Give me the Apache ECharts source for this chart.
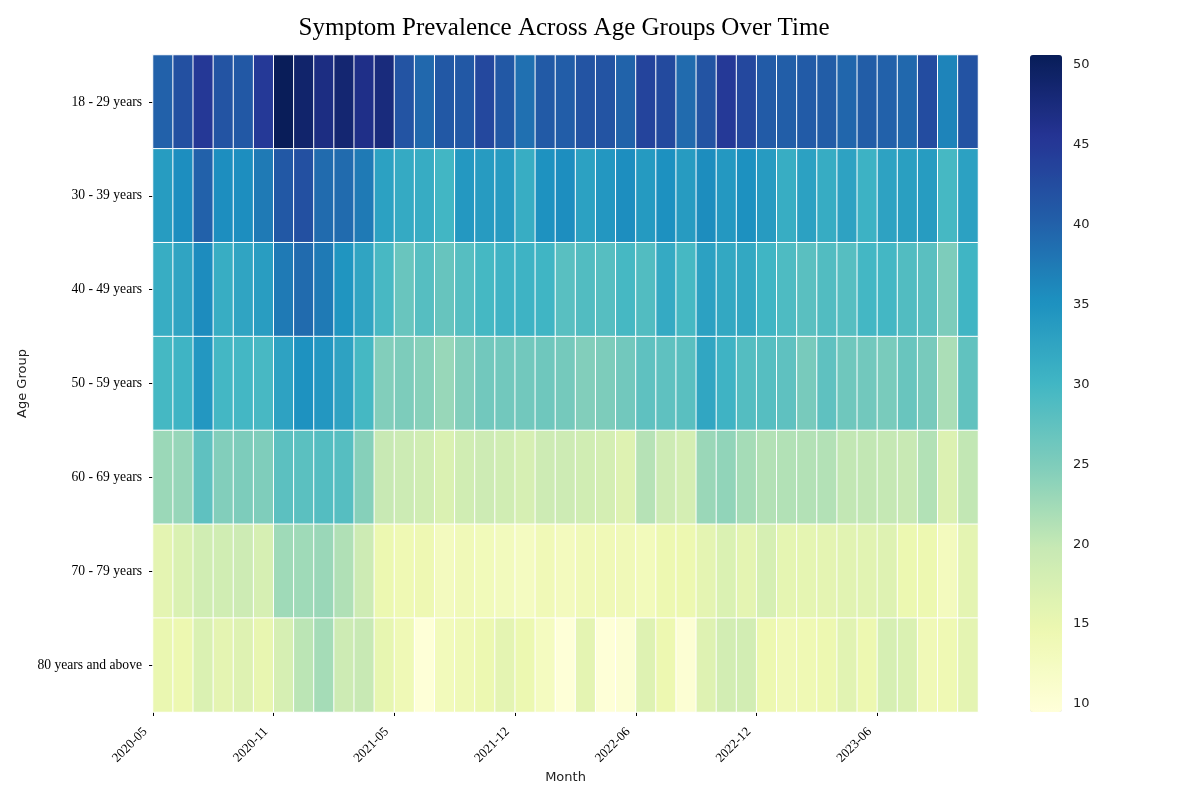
<!DOCTYPE html>
<html>
<head>
<meta charset="utf-8">
<title>Symptom Prevalence Across Age Groups Over Time</title>
<script src="https://cdn.jsdelivr.net/npm/echarts@6.0.0/dist/echarts.min.js"></script>
<style>
  html, body { margin: 0; padding: 0; background: #fff; }
  #chart { width: 1200px; height: 800px; }
</style>
</head>
<body>
<div id="chart"></div>
<script>
// months (columns), one survey month per column
const months = [
  '2020-05', '2020-06', '2020-07', '2020-08', '2020-09', '2020-10', '2020-11', '2020-12',
  '2021-01', '2021-02', '2021-03', '2021-04', '2021-05', '2021-06', '2021-07', '2021-09',
  '2021-10', '2021-11', '2021-12', '2022-01', '2022-02', '2022-03', '2022-04', '2022-05',
  '2022-06', '2022-07', '2022-08', '2022-09', '2022-10', '2022-11', '2022-12', '2023-01',
  '2023-02', '2023-03', '2023-04', '2023-05', '2023-06', '2023-07', '2023-08', '2023-09',
  '2023-10'
]
const ageGroups = ['18 - 29 years', '30 - 39 years', '40 - 49 years', '50 - 59 years',
  '60 - 69 years', '70 - 79 years', '80 years and above']

// values per age group
const age18to29 = [40, 42, 45, 41.5, 41, 44.8, 50.5, 49, 47, 48.5, 46.5,
  47.5, 41.5, 39.3, 41, 41, 43, 41, 38.5, 40.8, 40.4,
  41.5, 41.5, 39.8, 43.5, 42.8, 39, 41.5, 44.8, 43, 40.7,
  40.3, 40.7, 40.5, 39.5, 40.5, 40, 39.3, 42.5, 36.5, 41.7]
const age30to39 = [33.7, 35.5, 40, 35.5, 35.5, 37.5, 41, 42, 39, 39, 37.5,
  33, 31.7, 31.5, 30, 34.2, 33.8, 33.8, 31.3, 35, 35.5,
  33, 34.3, 35.5, 34, 35.2, 33.8, 35.6, 34.2, 35.2, 33.8,
  31.3, 33, 31.5, 32.8, 30.6, 32.8, 33.3, 33.7, 29.6, 33]
const age40to49 = [31.3, 32.5, 35.7, 31.3, 32.5, 33.5, 37.5, 39, 37.5, 34.7, 32.5,
  29.5, 26.7, 28.3, 26.9, 28.3, 29.7, 30.4, 30.5, 30.2, 28.1,
  28.6, 28.3, 29.6, 28.6, 31.7, 29.6, 33, 32, 32, 30.2,
  29, 28, 28.6, 28.3, 29.8, 29.8, 28.6, 28, 25.1, 30.2]
const age50to59 = [29.7, 30.3, 34.3, 29.8, 29.8, 29.5, 32.8, 35, 34.3, 32.8, 29.7,
  24.7, 25.1, 24.4, 23.1, 24.7, 26, 26, 26, 26.2, 25.7,
  24.7, 25.1, 26, 27.6, 27.6, 28, 32.3, 30.4, 28.5, 28.3,
  27.6, 25.5, 27.6, 26.2, 26, 25.4, 26.7, 25.5, 21.8, 27.4]
const age60to69 = [22.9, 23.2, 27.6, 24.7, 25.1, 24.9, 27.8, 27.9, 28.5, 28.3, 24.4,
  19.7, 19.1, 18.5, 17.2, 18.5, 19, 18.5, 17.7, 19, 19,
  18.5, 18, 16.6, 21, 19, 18, 23, 23.6, 22.2, 21.2,
  21.3, 21.2, 21.2, 20.1, 20.1, 19.9, 19.7, 21.3, 17, 20.1]
const age70to79 = [15.9, 17.2, 18.5, 18.5, 19, 17.7, 22.6, 22.6, 23, 21.4, 19,
  14.8, 14.2, 14.4, 12.9, 13.8, 13.5, 13.1, 12.6, 13.9, 13,
  13.8, 13.9, 13.8, 13.3, 14.7, 14.6, 15.9, 17.2, 15.9, 17.7,
  15.7, 15.7, 15.9, 16.2, 16.2, 16.6, 14.8, 14.7, 13, 15.9]
const age80plus = [15, 14.6, 17.2, 15.9, 16.6, 15.3, 17.7, 20.6, 22.2, 19, 19.7,
  15.4, 14, 9.8, 13.3, 14, 14.8, 15.9, 14.8, 12.7, 9.8,
  15.9, 9.7, 10.3, 16.6, 14.7, 10.3, 16.6, 18.3, 18.3, 14.7,
  13.9, 14.2, 14.6, 16.2, 14.6, 17.7, 17.2, 13.9, 14.2, 15.9]

// colour scale limits and the tick labels
const colorMin = 9.5
const colorMax = 50.6
const colorTicks = [10, 15, 20, 25, 30, 35, 40, 45, 50]
const monthTickIdx = [0, 6, 12, 18, 24, 30, 36]

// YlGnBu
const ylgnbu = ['#ffffd9', '#edf8b1', '#c7e9b4', '#7fcdbb', '#41b6c4',
  '#1d91c0', '#225ea8', '#253494', '#081d58']

const rows = [age18to29, age30to39, age40to49, age50to59, age60to69, age70to79, age80plus]
const heatData = []
rows.forEach((row, y) => {
  row.forEach((v, x) => {
    heatData.push([x, y, v])
  })
})

const serif = 'Liberation Serif'
const sans = 'DejaVu Sans'

const chart = echarts.init(document.getElementById('chart'), null, { renderer: 'canvas' })
const option = {
  animation: false,
  backgroundColor: '#fff',
  title: {
    text: 'Symptom Prevalence Across Age Groups Over Time',
    left: 559,
    top: 11,
    textAlign: 'center',
    textStyle: { fontFamily: serif, fontSize: 25, fontWeight: 'normal', color: '#000' }
  },
  grid: [
    { left: 153, top: 55, width: 825, height: 657 },
    { left: 1030, top: 55, width: 32, height: 657 }
  ],
  xAxis: [
    {
      // category axis that holds the cells
      type: 'category', gridIndex: 0, data: months, show: false
    },
    {
      // value overlay that puts month ticks on the column edges
      type: 'value', gridIndex: 0, min: 0, max: months.length, position: 'bottom',
      name: 'Month', nameLocation: 'middle', nameGap: 59, nameMoveOverlap: false,
      nameTextStyle: { fontFamily: sans, fontSize: 13, color: '#222' },
      axisLine: { show: false },
      splitLine: { show: false },
      axisTick: { show: true, length: 4, customValues: monthTickIdx, lineStyle: { color: '#000', width: 1 } },
      axisLabel: {
        customValues: monthTickIdx, rotate: 45, margin: 10,
        padding: [0, 11, 0, 0],
        fontFamily: serif, fontSize: 13, color: '#000',
        formatter: function (v) { return months[v] || '' }
      }
    },
    { type: 'value', gridIndex: 1, show: false, min: 0, max: 1 }
  ],
  yAxis: [
    {
      type: 'category', gridIndex: 0, data: ageGroups, inverse: true,
      name: 'Age Group', nameLocation: 'middle', nameGap: 124, nameMoveOverlap: false,
      nameTextStyle: { fontFamily: sans, fontSize: 13, color: '#222' },
      axisLine: { show: false },
      axisTick: { show: true, alignWithLabel: true, length: 4, lineStyle: { color: '#000' } },
      axisLabel: { fontFamily: serif, fontSize: 13.6, color: '#000', margin: 11 },
      splitLine: { show: false }
    },
    {
      type: 'value', gridIndex: 1, position: 'right', min: colorMin, max: colorMax,
      axisLine: { show: false },
      splitLine: { show: false },
      axisTick: { show: true, length: 4, customValues: colorTicks, lineStyle: { color: '#000' } },
      axisLabel: { customValues: colorTicks, fontFamily: sans, fontSize: 13, color: '#222', margin: 11 }
    }
  ],
  visualMap: {
    type: 'continuous',
    seriesIndex: 0,
    min: colorMin,
    max: colorMax,
    calculable: false,
    show: true,
    left: 1030,
    top: 55,
    padding: 0,
    itemWidth: 32,
    itemHeight: 657,
    text: null,
    showLabel: false,
    inRange: { color: ylgnbu }
  },
  series: [
    {
      type: 'heatmap',
      xAxisIndex: 0,
      yAxisIndex: 0,
      data: heatData,
      itemStyle: { borderColor: '#fff', borderWidth: 1 },
      emphasis: { disabled: true }
    }
  ]
}
chart.setOption(option)
</script>
</body>
</html>
